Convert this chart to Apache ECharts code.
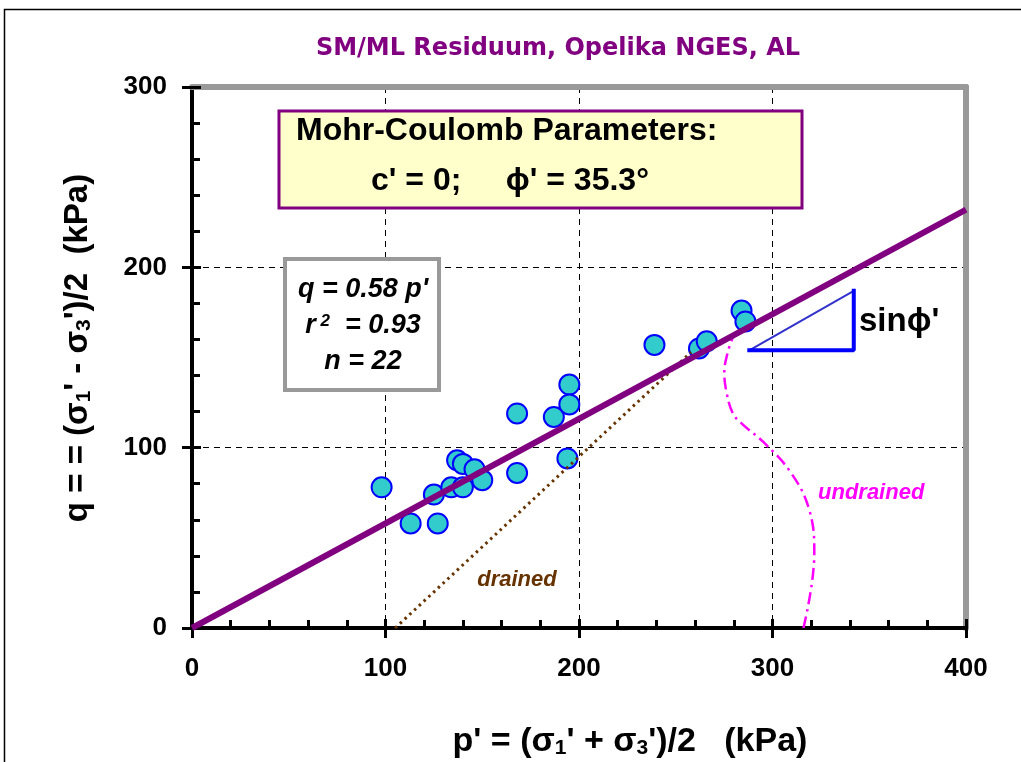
<!DOCTYPE html>
<html>
<head>
<meta charset="utf-8">
<title>SM/ML Residuum, Opelika NGES, AL</title>
<script src="https://cdn.jsdelivr.net/npm/echarts@6/dist/echarts.min.js"></script>
<style>
html, body { margin: 0; padding: 0; background: #fff; }
#main { width: 1021px; height: 762px; }
</style>
</head>
<body>
<div id="main"></div>
<script>
// test results: p' and q in kPa
var testP = [98, 113, 127, 125, 134, 140, 137, 140, 146, 150, 168, 168, 187, 195, 195, 194, 239, 262, 266, 284, 286];
var testQ = [78, 58, 58, 74, 78, 78, 93, 91, 88, 82, 86, 119, 117, 135, 124, 94, 157, 155, 159, 176, 170];

// Mohr-Coulomb line q = 0.58 p'
var envelopeP = [0, 400];
var envelopeQ = [0, 232];

// drained stress path
var drainedP = [105, 258];
var drainedQ = [0, 153];

// undrained stress path
var undrainedP = [316, 321.6, 319, 309.6, 295.8, 283.7, 279.4, 276.3, 275.1, 276.8, 279.4];
var undrainedQ = [0, 41.5, 65.6, 86, 102.6, 113.7, 119.3, 130.4, 141.5, 152.6, 161];

// slope triangle
var slopeP = [288, 342, 342];
var slopeQ = [154, 154, 187];

var xTicks = [0, 100, 200, 300, 400];
var yTicks = [0, 100, 200, 300];

function pairs(a, b) {
  var out = [];
  for (var i = 0; i < a.length; i++) out.push([a[i], b[i]]);
  return out;
}

var FONT = '"Liberation Sans", Arial, sans-serif';
var chart = echarts.init(document.getElementById('main'));

var tickLabel = { fontSize: 26, fontWeight: 'bold', color: '#000', fontFamily: FONT };

chart.setOption({
  animation: false,
  title: {
    text: 'SM/ML Residuum, Opelika NGES, AL',
    left: 553,
    textAlign: 'center',
    top: 32,
    textStyle: { color: '#800080', fontSize: 24, fontWeight: 'bold', fontFamily: '"DejaVu Sans", sans-serif' }
  },
  grid: { left: 192, right: 55, top: 87, bottom: 134 },
  xAxis: [
    {
      type: 'value', min: xTicks[0], max: xTicks[xTicks.length - 1], interval: 100, position: 'bottom',
      axisLine: { onZero: false, lineStyle: { color: '#000', width: 4 } },
      axisTick: { inside: true, length: 9, lineStyle: { color: '#000', width: 3 } },
      minorTick: { show: true, splitNumber: 5, length: 8, lineStyle: { color: '#000', width: 3 } },
      splitLine: { lineStyle: { color: '#000', width: 1, type: [6, 5] } },
      axisLabel: Object.assign({ margin: 28 }, tickLabel)
    },
    {
      type: 'value', min: 0, max: 400, interval: 100, position: 'bottom',
      axisLine: { show: false, onZero: false },
      axisTick: { inside: false, length: 10, lineStyle: { color: '#000', width: 3 } },
      axisLabel: { show: false }, splitLine: { show: false }
    },
    {
      type: 'value', min: 0, max: 400, position: 'top',
      axisLine: { onZero: false, lineStyle: { color: '#999', width: 6 } },
      axisTick: { show: false }, axisLabel: { show: false }, splitLine: { show: false }
    }
  ],
  yAxis: [
    {
      type: 'value', min: yTicks[0], max: yTicks[yTicks.length - 1], interval: 100, position: 'left',
      axisLine: { onZero: false, lineStyle: { color: '#000', width: 4 } },
      axisTick: { inside: true, length: 9, lineStyle: { color: '#000', width: 3 } },
      minorTick: { show: true, splitNumber: 5, length: 8, lineStyle: { color: '#000', width: 3 } },
      splitLine: { lineStyle: { color: '#000', width: 1, type: [6, 5] } },
      axisLabel: Object.assign({ margin: 25 }, tickLabel)
    },
    {
      type: 'value', min: 0, max: 300, interval: 100, position: 'left',
      axisLine: { show: false, onZero: false },
      axisTick: { inside: false, length: 10, lineStyle: { color: '#000', width: 3 } },
      axisLabel: { show: false }, splitLine: { show: false }
    },
    {
      type: 'value', min: 0, max: 300, position: 'right',
      axisLine: { onZero: false, lineStyle: { color: '#999', width: 6 } },
      axisTick: { show: false }, axisLabel: { show: false }, splitLine: { show: false }
    }
  ],
  series: [
    {
      type: 'line', data: pairs(drainedP, drainedQ), symbol: 'none',
      lineStyle: { color: '#663300', width: 3, type: [2.5, 4] }
    },
    {
      type: 'line', data: pairs(undrainedP, undrainedQ), symbol: 'none', smooth: 0.4,
      lineStyle: { color: '#ff00ff', width: 2.5, type: [12, 5, 2.5, 5] }
    },
    {
      type: 'line', data: pairs(envelopeP, envelopeQ), symbol: 'none',
      lineStyle: { color: '#800080', width: 6 }
    },
    {
      type: 'line', data: pairs([slopeP[0], slopeP[2]], [slopeQ[0], slopeQ[2]]), symbol: 'none',
      lineStyle: { color: '#3333cc', width: 2 }
    },
    {
      type: 'line', data: pairs(slopeP, slopeQ), symbol: 'none',
      lineStyle: { color: '#0000ff', width: 4, cap: 'square' }
    },
    {
      type: 'scatter', data: pairs(testP, testQ), symbol: 'circle', symbolSize: 20,
      itemStyle: { color: '#33cccc', borderColor: '#0000ff', borderWidth: 2, opacity: 1 }
    }
  ],
  graphic: [
    {
      type: 'rect', shape: { x: 4.5, y: 9.5, width: 1040, height: 780 }, silent: true,
      style: { fill: 'none', stroke: '#000', lineWidth: 1.5 }
    },
    {
      type: 'rect', shape: { x: 279, y: 111, width: 523, height: 97 }, z: 100,
      style: { fill: '#ffffcc', stroke: '#800080', lineWidth: 3 }
    },
    {
      type: 'text', x: 296, y: 131, z: 101,
      style: { text: 'Mohr-Coulomb Parameters:', fontSize: 32, fontWeight: 'bold', fontFamily: FONT, fill: '#000', align: 'left', verticalAlign: 'middle' }
    },
    {
      type: 'text', x: 371, y: 181, z: 101,
      style: { text: "c' = 0;     \u03d5' = 35.3\u00b0", fontSize: 32, fontWeight: 'bold', fontFamily: FONT, fill: '#000', align: 'left', verticalAlign: 'middle' }
    },
    {
      type: 'rect', shape: { x: 285, y: 259, width: 154, height: 131 }, z: 100,
      style: { fill: '#fff', stroke: '#999', lineWidth: 4 }
    },
    {
      type: 'text', x: 363, y: 290, z: 101,
      style: { text: "q = 0.58 p'", fontSize: 27, fontWeight: 'bold', fontStyle: 'italic', fontFamily: FONT, fill: '#000', align: 'center', verticalAlign: 'middle' }
    },
    {
      type: 'text', x: 363, y: 326, z: 101,
      style: {
        text: '{i|r}{u| 2}{i|  = 0.93}', fill: '#000', align: 'center', verticalAlign: 'middle',
        rich: {
          i: { fontSize: 27, fontWeight: 'bold', fontStyle: 'italic', fontFamily: FONT, lineHeight: 27, verticalAlign: 'top' },
          u: { fontSize: 17, fontWeight: 'bold', fontStyle: 'italic', fontFamily: FONT, lineHeight: 17, verticalAlign: 'top' }
        }
      }
    },
    {
      type: 'text', x: 363, y: 362, z: 101,
      style: { text: 'n = 22', fontSize: 27, fontWeight: 'bold', fontStyle: 'italic', fontFamily: FONT, fill: '#000', align: 'center', verticalAlign: 'middle' }
    },
    {
      type: 'text', x: 859, y: 322, z: 101,
      style: { text: "sin\u03d5'", fontSize: 33, fontWeight: 'bold', fontFamily: FONT, fill: '#000', align: 'left', verticalAlign: 'middle' }
    },
    {
      type: 'text', x: 818, y: 493, z: 101,
      style: { text: 'undrained', fontSize: 22, fontWeight: 'bold', fontStyle: 'italic', fontFamily: FONT, fill: '#ff00ff', align: 'left', verticalAlign: 'middle' }
    },
    {
      type: 'text', x: 517, y: 580, z: 101,
      style: { text: 'drained', fontSize: 22, fontWeight: 'bold', fontStyle: 'italic', fontFamily: FONT, fill: '#663300', align: 'center', verticalAlign: 'middle' }
    },
    {
      type: 'text', x: 630, y: 742, z: 101,
      style: {
        text: "{m|p' = (\u03c3}{s|1}{m|' + \u03c3}{s|3}{m|')/2   (kPa)}", fill: '#000', align: 'center', verticalAlign: 'middle',
        rich: {
          m: { fontSize: 34, fontWeight: 'bold', fontFamily: FONT, lineHeight: 34, verticalAlign: 'top' },
          s: { fontSize: 21, fontWeight: 'bold', fontFamily: FONT, lineHeight: 21, padding: [16, 0, 0, 0], verticalAlign: 'bottom' }
        }
      }
    },
    {
      type: 'text', x: 78, y: 348, z: 101, rotation: Math.PI / 2,
      style: {
        text: "{m|q = = (\u03c3}{s|1}{m|' - \u03c3}{s|3}{m|')/2  (kPa)}", fill: '#000', align: 'center', verticalAlign: 'middle',
        rich: {
          m: { fontSize: 33, fontWeight: 'bold', fontFamily: FONT, lineHeight: 33, verticalAlign: 'top' },
          s: { fontSize: 21, fontWeight: 'bold', fontFamily: FONT, lineHeight: 21, padding: [16, 0, 0, 0], verticalAlign: 'bottom' }
        }
      }
    }
  ]
});
</script>
</body>
</html>
